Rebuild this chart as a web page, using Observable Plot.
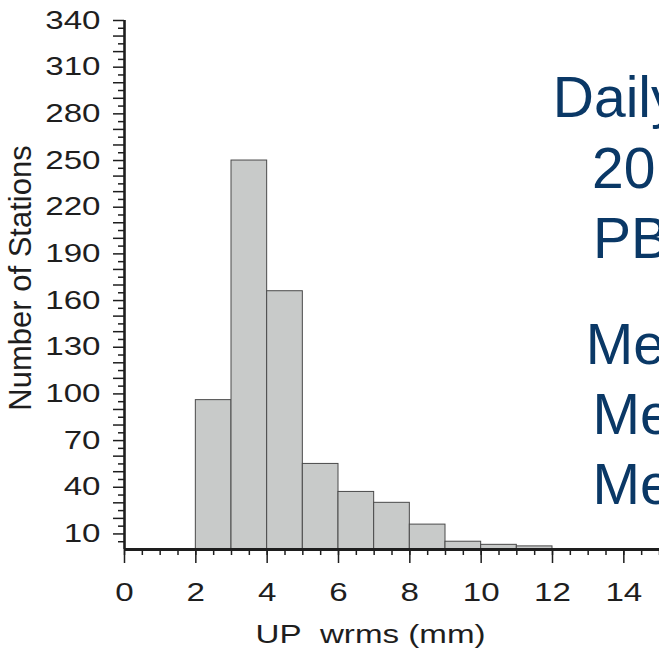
<!DOCTYPE html>
<html>
<head>
<meta charset="utf-8">
<script src="https://cdn.jsdelivr.net/npm/d3@7"></script>
<script src="https://cdn.jsdelivr.net/npm/@observablehq/plot@0.6"></script>
<style>
  html, body { margin: 0; padding: 0; background: #fff; overflow: hidden; }
  #chart svg { overflow: hidden; display: block; }
</style>
</head>
<body>
<div id="chart"></div>
<script>
// ---- data ----
const binEdges = [2, 3, 4, 5, 6, 7, 8, 9, 10, 11, 12];
const stationCounts = [96, 250, 166, 55, 37, 30, 16, 5, 3, 2];
const yTickLabels = [10, 40, 70, 100, 130, 160, 190, 220, 250, 280, 310, 340];
const xTickLabels = [0, 2, 4, 6, 8, 10, 12, 14];
const yAxisTitle = "Number of Stations";
const xAxisTitle = "UP\u00a0 wrms (mm)";
const sideLines = ["Daily", "20", "PB", "Me", "Me", "Me"];

// ---- layout ----
const W = 659, H = 653;
const mL = 124, mT = 20, mR = 0, mB = 104;
const sideLayout = [
  {x: 552.3, base: 116.7},
  {x: 591.5, base: 187},
  {x: 592.4, base: 257},
  {x: 585.2, base: 363},
  {x: 591.9, base: 433},
  {x: 591.9, base: 503}
];
const blue = "#0a3866";
const ink = "#1e1e1e";
const stretch = 1.3;

const bins = stationCounts.map((c, i) => ({x1: binEdges[i], x2: binEdges[i + 1], count: c}));

const chart = Plot.plot({
  width: W,
  height: H,
  marginLeft: mL,
  marginTop: mT,
  marginRight: mR,
  marginBottom: mB,
  style: {fontFamily: "'Liberation Sans', Arial, Helvetica, sans-serif", background: "#fff", color: ink},
  x: {domain: [0, 15]},
  y: {domain: [0, 340]},
  marks: [
    Plot.rectY(bins, {x1: "x1", x2: "x2", y: "count", fill: "#c8cac9", stroke: "#4a4a4a", strokeWidth: 1, insetLeft: 0, insetRight: 0}),
    // y axis ticks
    Plot.axisY({ticks: d3.range(5, 341, 10), tickSize: 6, strokeWidth: 1.5, text: null, label: null, stroke: ink}),
    Plot.axisY({ticks: d3.range(10, 341, 10), tickSize: 11, strokeWidth: 1.5, text: null, label: null, stroke: ink}),
    Plot.axisY({ticks: yTickLabels, tickSize: 0, tickPadding: 24, fontSize: 25.5, label: null, fill: ink}),
    // x axis ticks
    Plot.axisX({ticks: d3.range(0, 15.01, 0.5), tickSize: 6, strokeWidth: 1.5, text: null, label: null, stroke: ink}),
    Plot.axisX({ticks: xTickLabels, tickSize: 14, strokeWidth: 1.5, text: null, label: null, stroke: ink}),
    Plot.axisX({ticks: xTickLabels, tickSize: 0, tickPadding: 33, fontSize: 25.5, label: null, fill: ink}),
    // axis lines
    Plot.ruleX([0], {stroke: ink, strokeWidth: 2.6}),
    Plot.ruleY([0], {stroke: ink, strokeWidth: 3}),
    // axis titles
    Plot.text([xAxisTitle], {frameAnchor: "bottom", dx: -21.5, dy: 93, lineAnchor: "bottom", textAnchor: "middle", fontSize: 25.5, fill: ink}),
    Plot.text([yAxisTitle], {frameAnchor: "left", dx: -103, dy: -7, rotate: -90, lineAnchor: "middle", textAnchor: "middle", fontSize: 31, fill: ink}),
    // side annotation (clipped at right edge as in the reference)
    ...sideLines.map((t, i) => Plot.text([t], {
      frameAnchor: "top-left",
      dx: sideLayout[i].x - mL,
      dy: sideLayout[i].base - mT,
      textAnchor: "start",
      lineAnchor: "bottom",
      fontSize: 57,
      fill: blue
    }))
  ]
});

// the reference chart graphic is stretched horizontally: emulate on its labels
function stretchText(t) {
  const tr = t.getAttribute("transform");
  if (tr) {
    t.setAttribute("transform", tr + ` scale(${stretch},1)`);
  } else {
    const x = +t.getAttribute("x") || 0, y = +t.getAttribute("y") || 0;
    t.removeAttribute("x"); t.removeAttribute("y");
    t.setAttribute("transform", `translate(${x},${y}) scale(${stretch},1)`);
  }
}
chart.querySelectorAll('g[aria-label="y-axis tick label"] text, g[aria-label="x-axis tick label"] text').forEach(stretchText);
chart.querySelectorAll('text').forEach(t => { if (t.textContent === xAxisTitle) stretchText(t); });

document.getElementById("chart").appendChild(chart);
</script>
</body>
</html>
